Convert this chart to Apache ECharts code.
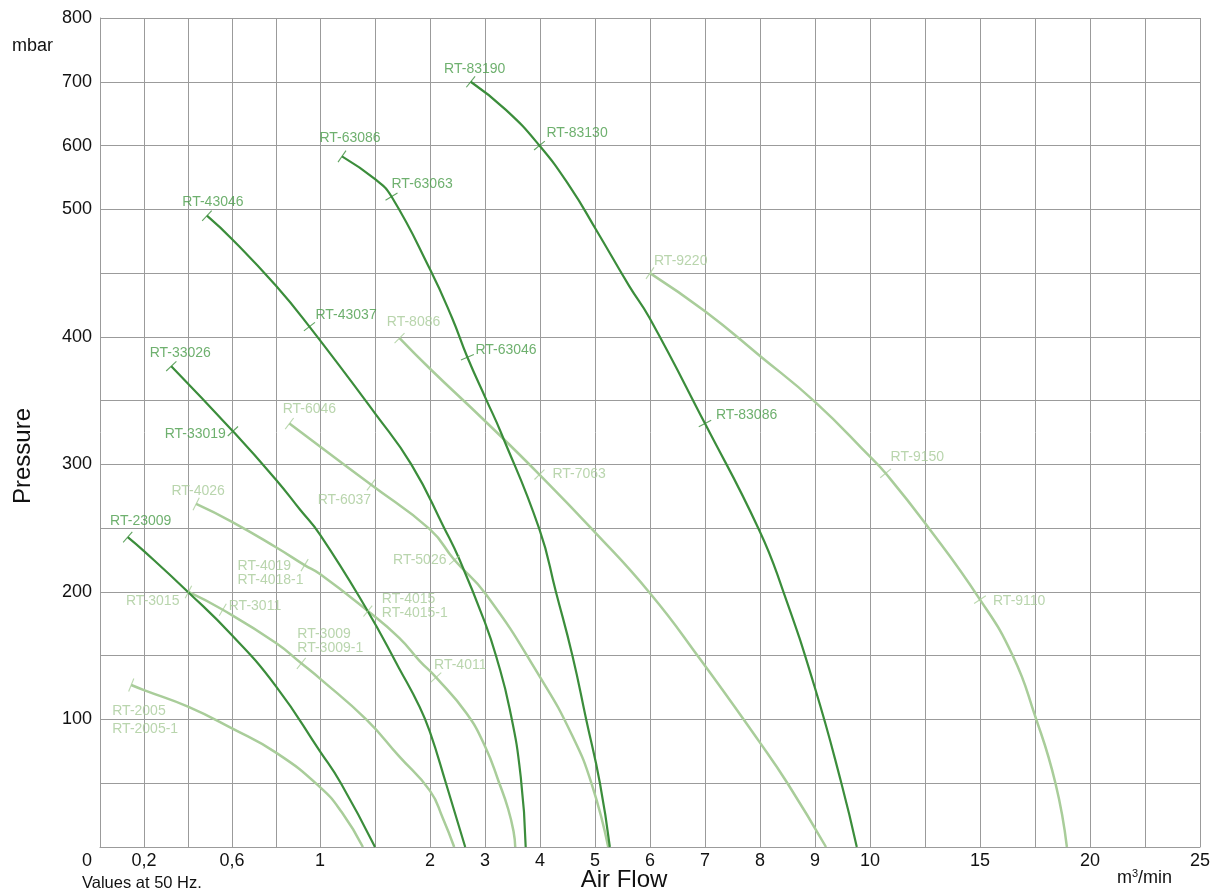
<!DOCTYPE html>
<html>
<head>
<meta charset="utf-8">
<title>Air flow / pressure curves</title>
<script src="https://cdn.jsdelivr.net/npm/echarts@6.0.0/dist/echarts.min.js"></script>
<style>
  html, body { margin: 0; padding: 0; background: #fff; }
  #chart { width: 1213px; height: 892px; }
</style>
</head>
<body>
<div id="chart"></div>
<script>
// blower curves, [air flow m3/min, pressure mbar]
const rt23009 = [[0.126, 243], [0.2, 232], [0.4, 200], [0.6, 166], [0.8, 126], [1.0, 75], [1.19, 50], [1.5, 0]];
const rt33026 = [[0.324, 377], [0.604, 326], [0.8, 288], [0.907, 265], [1.0, 245], [1.42, 187], [1.72, 140], [1.905, 110], [2.0, 90], [2.29, 50], [2.64, 0]];
const rt43046 = [[0.486, 495], [0.604, 476], [0.8, 440], [0.952, 408], [1.5, 340], [1.83, 300], [2.26, 250], [2.54, 225], [3.0, 176], [3.2, 150], [3.45, 108], [3.65, 55], [3.74, 0]];
const rt63086 = [[1.2, 583], [1.51, 546], [1.65, 520], [2.0, 453], [2.4, 415], [2.68, 384], [3.02, 351], [3.29, 325], [3.99, 249], [4.29, 200], [4.59, 150], [4.84, 100], [5.09, 50], [5.27, 0]];
const rt83190 = [[2.74, 700], [3.38, 656], [3.99, 600], [4.54, 536], [5.02, 484], [5.62, 440], [5.99, 415], [7.0, 332], [7.98, 249], [8.41, 202], [8.99, 126], [9.48, 50], [9.76, 0]];

const rt2005 = [[0.142, 127], [0.2, 123], [0.4, 110], [0.6, 93], [0.8, 74], [1.0, 47], [1.2, 27], [1.39, 0]];
const rt3015 = [[0.402, 200], [0.558, 186], [0.8, 160], [0.915, 144], [1.0, 132], [1.42, 100], [1.72, 71], [2.0, 44], [2.23, 23], [2.44, 0]];
const rt4026 = [[0.437, 269], [0.6, 255], [0.8, 235], [0.93, 221], [1.0, 214], [1.435, 185], [1.72, 164], [1.905, 146], [2.11, 133], [2.66, 105], [3.0, 79], [3.26, 50], [3.42, 30], [3.52, 12], [3.55, 0]];
const rt6046 = [[0.861, 332], [1.0, 314], [1.465, 284], [2.0, 249], [2.445, 225], [3.02, 198], [3.99, 134], [4.59, 87], [4.95, 48], [5.24, 0]];
const rt8086 = [[1.723, 399], [2.0, 375], [3.0, 334], [3.99, 292], [4.95, 249], [6.0, 199], [6.9, 148], [7.98, 83], [8.5, 50], [9.2, 0]];
const rt9220 = [[6.0, 450], [7.0, 420], [8.0, 385], [9.0, 349], [10.0, 306], [10.71, 293], [12.5, 254], [15.0, 194], [16.49, 150], [17.5, 103], [18.43, 50], [18.95, 0]];

const darkCurves = [rt23009, rt33026, rt43046, rt63086, rt83190];
const lightCurves = [rt2005, rt3015, rt4026, rt6046, rt8086, rt9220];

// labelled points: [text, curve, flow, pressure]
const darkMarks = [
  ['RT-23009', rt23009, 0.126, 243],
  ['RT-33026', rt33026, 0.324, 377],
  ['RT-33019', rt33026, 0.604, 326],
  ['RT-43046', rt43046, 0.486, 495],
  ['RT-43037', rt43046, 0.952, 408],
  ['RT-63086', rt63086, 1.2, 583],
  ['RT-63063', rt63086, 1.65, 520],
  ['RT-63046', rt63086, 2.68, 384],
  ['RT-83190', rt83190, 2.74, 700],
  ['RT-83130', rt83190, 3.99, 600],
  ['RT-83086', rt83190, 7.0, 332]
];
const lightMarks = [
  ['RT-2005\nRT-2005-1', rt2005, 0.142, 127],
  ['RT-3015', rt3015, 0.402, 200],
  ['RT-3011', rt3015, 0.558, 186],
  ['RT-3009\nRT-3009-1', rt3015, 0.915, 144],
  ['RT-4026', rt4026, 0.437, 269],
  ['RT-4019\nRT-4018-1', rt4026, 0.93, 221],
  ['RT-4015\nRT-4015-1', rt4026, 1.435, 185],
  ['RT-4011', rt4026, 2.11, 133],
  ['RT-6046', rt6046, 0.861, 332],
  ['RT-6037', rt6046, 1.465, 284],
  ['RT-5026', rt6046, 2.445, 225],
  ['RT-8086', rt8086, 1.723, 399],
  ['RT-7063', rt8086, 3.99, 292],
  ['RT-9220', rt9220, 6.0, 450],
  ['RT-9150', rt9220, 10.71, 293],
  ['RT-9110', rt9220, 15.0, 194]
];

// axis ticks
const flowTickValues = [0.2, 0.6, 1, 2, 3, 4, 5, 6, 7, 8, 9, 10, 15, 20, 25];
const flowTickLabels = ['0,2', '0,6', '1', '2', '3', '4', '5', '6', '7', '8', '9', '10', '15', '20', '25'];
const flowGridValues = [0.2, 0.4, 0.6, 0.8, 1, 1.5, 2, 3, 4, 5, 6, 7, 8, 9, 10, 12.5, 15, 17.5, 20, 22.5, 25];
const pressureTickValues = [100, 200, 300, 400, 500, 600, 700, 800];

// piecewise axis scales of the original sheet
const flowBreaks = [[0, 0], [1, 220], [2, 330], [10, 770], [25, 1100]];
const pressureBreaks = [[0, 0], [500, 10], [800, 13]];

function piecewise(breaks, v) {
  for (let i = 1; i < breaks.length; i++) {
    const a = breaks[i - 1], b = breaks[i];
    if (v <= b[0] || i === breaks.length - 1) {
      return a[1] + (v - a[0]) * (b[1] - a[1]) / (b[0] - a[0]);
    }
  }
}
const flowPos = v => piecewise(flowBreaks, v);
const pressurePos = v => piecewise(pressureBreaks, v);

const GRID_COLOR = '#9b9b9b';
const DARK = '#3b8d3b';
const DARK_TEXT = '#4a9c4a';
const LIGHT = '#a9cd9a';
const LIGHT_TEXT = '#a7cb99';
const FONT = 'Liberation Sans, Arial, sans-serif';
const STEP_PX = 829 / 13;

// where each label sits relative to its tick: [dx, dy, align, lineHeight]
const labelPlace = {
  'RT-23009': [13, -16, 'center'],
  'RT-33026': [9, -13, 'center'],
  'RT-33019': [-7, 3, 'right'],
  'RT-43046': [6, -14, 'center'],
  'RT-43037': [6, -12, 'left'],
  'RT-63086': [8, -18, 'center'],
  'RT-63063': [0, -12, 'left'],
  'RT-63046': [8, -7, 'left'],
  'RT-83190': [4, -13, 'center'],
  'RT-83130': [7, -12, 'left'],
  'RT-83086': [11, -8, 'left'],
  'RT-2005\nRT-2005-1': [-19, 35, 'left', 18],
  'RT-3015': [-9, 9, 'right'],
  'RT-3011': [6, -4, 'left'],
  'RT-3009\nRT-3009-1': [-4, -22, 'left'],
  'RT-4026': [2, -13, 'center'],
  'RT-4019\nRT-4018-1': [-67, 8, 'left'],
  'RT-4015\nRT-4015-1': [14, -5, 'left'],
  'RT-4011': [-2, -12, 'left'],
  'RT-6046': [20, -14, 'center'],
  'RT-6037': [0, 15, 'right'],
  'RT-5026': [-8, 0, 'right'],
  'RT-8086': [14, -16, 'center'],
  'RT-7063': [13, 0, 'left'],
  'RT-9220': [4, -12, 'left'],
  'RT-9150': [5, -16, 'left'],
  'RT-9110': [13, 2, 'left']
};

function tickAngle(curve, f) {
  let i = curve.findIndex(pt => pt[0] === f);
  if (i < 0) i = 0;
  const a = curve[Math.max(i - 1, 0)];
  const b = curve[Math.min(i + 1, curve.length - 1)];
  const dx = flowPos(b[0]) - flowPos(a[0]);
  const dy = (pressurePos(b[1]) - pressurePos(a[1])) * STEP_PX;
  return Math.atan2(dy, dx) * 180 / Math.PI;
}

// category helper axis: one slot per 11 px, used for the uneven grid and labels
const CAT_STEP = 11;
const catData = [];
for (let i = 0; i <= 1100 / CAT_STEP; i++) catData.push(String(i));
const gridIdx = new Set(flowGridValues.map(v => Math.round(flowPos(v) / CAT_STEP)));
const flowLabelByIdx = {};
flowTickValues.forEach((v, k) => { flowLabelByIdx[Math.round(flowPos(v) / CAT_STEP)] = flowTickLabels[k]; });
const pressureLabelByStep = {};
pressureTickValues.forEach(v => { pressureLabelByStep[Math.round(pressurePos(v))] = String(v); });

function lineSeries(curve, color, width, z) {
  return {
    type: 'line',
    xAxisIndex: 0,
    yAxisIndex: 0,
    data: curve.map(pt => [flowPos(pt[0]), pressurePos(pt[1])]),
    smooth: 0.5,
    symbol: 'none',
    silent: true,
    z: z,
    lineStyle: { color: color, width: width }
  };
}

function tickSeries(marks, color, textColor) {
  return {
    type: 'scatter',
    xAxisIndex: 0,
    yAxisIndex: 0,
    z: 6,
    silent: true,
    symbol: 'rect',
    symbolSize: [1.1, 14],
    itemStyle: { color: color },
    label: { show: true, position: 'inside', color: textColor, fontSize: 14, fontFamily: FONT, verticalAlign: 'middle' },
    data: marks.map(m => {
      const pl = labelPlace[m[0]];
      return {
        value: [flowPos(m[2]), pressurePos(m[3])],
        symbolRotate: tickAngle(m[1], m[2]),
        label: { formatter: m[0], offset: [pl[0], pl[1]], align: pl[2], lineHeight: pl[3] || 14 }
      };
    })
  };
}

const chart = echarts.init(document.getElementById('chart'));
chart.setOption({
  animation: false,
  backgroundColor: '#ffffff',
  textStyle: { fontFamily: FONT },
  grid: { left: 100, right: 13, top: 18, bottom: 45 },
  xAxis: [
    { type: 'value', min: 0, max: 1100, show: false },
    {
      type: 'category',
      data: catData,
      boundaryGap: false,
      position: 'bottom',
      axisLine: { show: true, lineStyle: { color: GRID_COLOR, width: 1 } },
      axisTick: { show: false },
      splitLine: { show: true, interval: i => gridIdx.has(i), lineStyle: { color: GRID_COLOR, width: 1 } },
      axisLabel: {
        interval: i => flowLabelByIdx[i] !== undefined,
        formatter: (v, i) => flowLabelByIdx[i] || '',
        color: '#111', fontSize: 18, fontFamily: FONT, margin: 5
      }
    }
  ],
  yAxis: {
    type: 'value', min: 0, max: 13, interval: 1,
    axisLine: { show: true, lineStyle: { color: GRID_COLOR, width: 1 } },
    axisTick: { show: false },
    splitLine: { show: true, lineStyle: { color: GRID_COLOR, width: 1 } },
    axisLabel: {
      formatter: v => pressureLabelByStep[Math.round(v)] || '',
      color: '#111', fontSize: 18, fontFamily: FONT, margin: 8
    }
  },
  graphic: [
    { type: 'text', x: 12, y: 46, style: { text: 'mbar', fontSize: 18, fontFamily: FONT, fill: '#111', verticalAlign: 'middle' } },
    { type: 'text', x: 87, y: 861, style: { text: '0', fontSize: 18, fontFamily: FONT, fill: '#111', align: 'center', verticalAlign: 'middle' } },
    { type: 'text', x: 23, y: 456, rotation: Math.PI / 2, style: { text: 'Pressure', fontSize: 24, fontFamily: FONT, fill: '#111', align: 'center', verticalAlign: 'middle' } },
    { type: 'text', x: 624, y: 880, style: { text: 'Air Flow', fontSize: 24, fontFamily: FONT, fill: '#111', align: 'center', verticalAlign: 'middle' } },
    { type: 'text', x: 82, y: 883, style: { text: 'Values at 50 Hz.', fontSize: 16.5, fontFamily: FONT, fill: '#111', verticalAlign: 'middle' } },
    {
      type: 'text', x: 1117, y: 878,
      style: {
        text: '{a|m}{s|3}{a|/min}', fontFamily: FONT, fill: '#111', verticalAlign: 'middle',
        rich: { a: { fontSize: 18, fontFamily: FONT, fill: '#111' }, s: { fontSize: 11, fontFamily: FONT, fill: '#111', verticalAlign: 'top', padding: [0, 0, 8, 0] } }
      }
    }
  ],
  series: [
    ...lightCurves.map(c => lineSeries(c, LIGHT, 2.5, 2)),
    ...darkCurves.map(c => lineSeries(c, DARK, 2.2, 3)),
    tickSeries(lightMarks, LIGHT, LIGHT_TEXT),
    tickSeries(darkMarks, DARK, DARK_TEXT)
  ]
});
</script>
</body>
</html>
